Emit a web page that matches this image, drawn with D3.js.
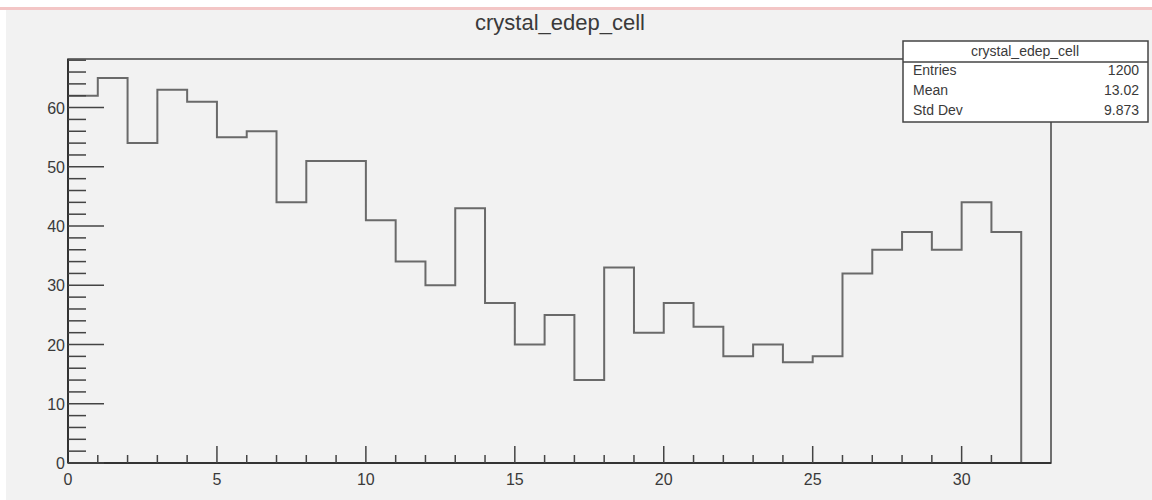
<!DOCTYPE html>
<html>
<head>
  <title>crystal_edep_cell</title>
  <style>
    body { margin: 0; background: #fff; }
    text { font-family: "Liberation Sans", Arial, sans-serif; fill: #3a3a3a; }
  </style>
</head>
<body>
  <svg id="svg"></svg>
  <script src="https://d3js.org/d3.v7.min.js"></script>
  <script>
    // bin contents, one per unit-wide bin starting at 0
    const binEdges = d3.range(0, 33);
    const counts = [62, 65, 54, 63, 61, 55, 56, 44, 51, 51, 41, 34, 30, 43, 27, 20,
                    25, 14, 33, 22, 27, 23, 18, 20, 17, 18, 32, 36, 39, 36, 44, 39];
    const xTicks = [0, 5, 10, 15, 20, 25, 30];
    const yTicks = [0, 10, 20, 30, 40, 50, 60];
    const statLabels = ["Entries", "Mean", "Std Dev"];
    const statValues = ["1200", "13.02", "9.873"];
    const title = "crystal_edep_cell";

    const W = 1152, H = 500;
    const margin = { top: 59, right: 101, bottom: 37, left: 68 };
    const width = W - margin.left - margin.right;
    const height = H - margin.top - margin.bottom;

    const svg = d3.select("#svg").attr("width", W).attr("height", H);

    // canvas background like the ROOT window
    svg.append("rect").attr("x", 6).attr("y", 9).attr("width", W - 6).attr("height", H - 9).attr("fill", "#f2f2f2");
    svg.append("rect").attr("x", 0).attr("y", 7).attr("width", W).attr("height", 3).attr("fill", "#f3c6c6");

    const x = d3.scaleLinear().domain([0, 33]).range([0, width]);
    const y = d3.scaleLinear().domain([0, 68.2]).range([height, 0]);

    const g = svg.append("g").attr("transform", `translate(${margin.left},${margin.top})`);

    // frame
    g.append("rect").attr("width", width).attr("height", height)
      .attr("fill", "none").attr("stroke", "#444").attr("stroke-width", 1.5);

    // histogram outline
    const pts = [[0, 0]];
    counts.forEach((c, i) => { pts.push([binEdges[i], c]); pts.push([binEdges[i] + 1, c]); });
    pts.push([counts.length, 0]);
    g.append("path")
      .attr("d", d3.line().x(d => x(d[0])).y(d => y(d[1]))(pts))
      .attr("fill", "none").attr("stroke", "#6a6a6a").attr("stroke-width", 2);

    // x axis
    const xMinor = d3.range(0, 32).filter(v => v % 5 !== 0);
    const xa = g.append("g").attr("transform", `translate(0,${height})`);
    xa.append("line").attr("x1", 0).attr("x2", width).attr("stroke", "#333").attr("stroke-width", 2);
    xa.selectAll(".mj").data(xTicks).join("line")
      .attr("x1", d => x(d)).attr("x2", d => x(d)).attr("y1", 0).attr("y2", -17)
      .attr("stroke", "#444").attr("stroke-width", 1.5);
    xa.selectAll(".mn").data(xMinor).join("line")
      .attr("x1", d => x(d)).attr("x2", d => x(d)).attr("y1", 0).attr("y2", -8)
      .attr("stroke", "#444").attr("stroke-width", 1.5);
    xa.selectAll("text").data(xTicks).join("text")
      .attr("x", d => x(d)).attr("y", 22).attr("text-anchor", "middle")
      .attr("font-size", 16).text(d => d);

    // y axis
    const yMinor = d3.range(0, 69, 2).filter(v => v % 10 !== 0);
    const ya = g.append("g");
    ya.append("line").attr("y1", 0).attr("y2", height).attr("stroke", "#333").attr("stroke-width", 2);
    ya.selectAll(".mj").data(yTicks).join("line")
      .attr("y1", d => y(d)).attr("y2", d => y(d)).attr("x1", 0).attr("x2", 36)
      .attr("stroke", "#444").attr("stroke-width", 1.5);
    ya.selectAll(".mn").data(yMinor).join("line")
      .attr("y1", d => y(d)).attr("y2", d => y(d)).attr("x1", 0).attr("x2", 18)
      .attr("stroke", "#444").attr("stroke-width", 1.5);
    ya.selectAll("text").data(yTicks).join("text")
      .attr("x", -3).attr("y", d => y(d) + 6).attr("text-anchor", "end")
      .attr("font-size", 16).text(d => d);

    // title
    svg.append("text").attr("x", 560).attr("y", 30).attr("text-anchor", "middle")
      .attr("font-size", 22).text(title);

    // stats box
    const sb = svg.append("g").attr("transform", "translate(903,41)");
    sb.append("rect").attr("width", 245).attr("height", 81)
      .attr("fill", "#fff").attr("stroke", "#444").attr("stroke-width", 1.5);
    sb.append("line").attr("x1", 0).attr("x2", 245).attr("y1", 21).attr("y2", 21)
      .attr("stroke", "#444").attr("stroke-width", 1.5);
    sb.append("text").attr("x", 122).attr("y", 15).attr("text-anchor", "middle")
      .attr("font-size", 14).text(title);
    sb.selectAll(".lab").data(statLabels).join("text")
      .attr("x", 10).attr("y", (d, i) => 34 + i * 20).attr("font-size", 14).text(d => d);
    sb.selectAll(".val").data(statValues).join("text")
      .attr("x", 236).attr("y", (d, i) => 34 + i * 20).attr("text-anchor", "end")
      .attr("font-size", 14).text(d => d);
  </script>
</body>
</html>
